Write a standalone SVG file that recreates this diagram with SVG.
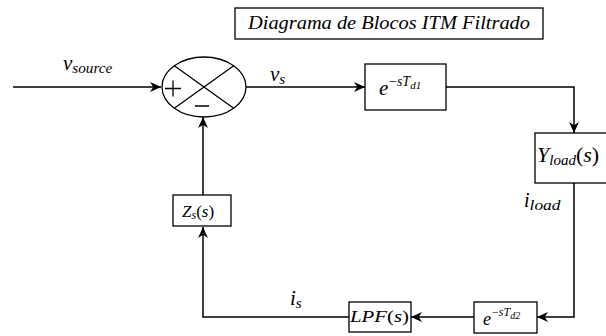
<svg xmlns="http://www.w3.org/2000/svg" width="606" height="336" viewBox="0 0 606 336">
<style>
.box{fill:#fff;stroke:#000;stroke-width:1.3}
.ln{fill:none;stroke:#000;stroke-width:1.5}
.m{font-family:'Liberation Serif','Times New Roman','DejaVu Serif',serif;font-style:italic;fill:#000}
.r{font-family:'Liberation Serif','Times New Roman','DejaVu Serif',serif;font-style:normal;fill:#000}
</style>
<defs>
<marker id="arr" viewBox="0 0 10 10" refX="10" refY="5" markerWidth="11" markerHeight="11" markerUnits="userSpaceOnUse" orient="auto">
<path d="M0,0.5 L10,5 L0,9.5 L3,5 Z" fill="#000"/>
</marker>
</defs>
<rect width="606" height="336" fill="#fff"/>
<g id="title">
<rect class="box" x="235" y="8" width="308" height="31"/>
<text class="m" x="248" y="29" font-size="18" textLength="282" lengthAdjust="spacingAndGlyphs">Diagrama de Blocos ITM Filtrado</text>
</g>
<g id="connectors">
<path class="ln" d="M13,87 H161" marker-end="url(#arr)"/>
<path class="ln" d="M246,87 H365" marker-end="url(#arr)"/>
<path class="ln" d="M446,87 H574 V133" marker-end="url(#arr)"/>
<path class="ln" d="M574,183 V317 H537" marker-end="url(#arr)"/>
<path class="ln" d="M474,317 H411" marker-end="url(#arr)"/>
<path class="ln" d="M349,317 H203 V227" marker-end="url(#arr)"/>
<path class="ln" d="M203,195 V117" marker-end="url(#arr)"/>
</g>
<g id="labels">
<text class="m" x="63" y="70" font-size="21">v<tspan font-size="15" dy="3" textLength="40" lengthAdjust="spacingAndGlyphs">source</tspan></text>
<text class="m" x="270" y="81" font-size="21">v<tspan font-size="15" dy="3">s</tspan></text>
<text class="m" x="524" y="207" font-size="20">i<tspan font-size="15" dy="3" textLength="31" lengthAdjust="spacingAndGlyphs">load</tspan></text>
<text class="m" x="290" y="305" font-size="21">i<tspan font-size="15" dy="3">s</tspan></text>
</g>
<g id="sum">
<ellipse cx="204" cy="87" rx="42" ry="30" fill="#fff" stroke="#000" stroke-width="1.3"/>
<path d="M174.3,65.8 L233.7,108.2 M174.3,108.2 L233.7,65.8" stroke="#000" stroke-width="1.3" fill="none"/>
<path d="M165,88.5 H181 M173,80.5 V96.5 M195,106 H209" stroke="#000" stroke-width="1.3" fill="none"/>
</g>
<g id="delay1">
<rect class="box" x="365" y="64" width="81" height="46"/>
<text class="m" x="379" y="95" font-size="21">e</text>
<text class="r" x="389" y="86" font-size="14">−<tspan class="m">sT</tspan><tspan class="m" font-size="11" dy="3">d1</tspan></text>
</g>
<g id="yload">
<rect class="box" x="535" y="133" width="78" height="50"/>
<text class="m" x="537" y="162" font-size="22">Y<tspan font-size="15" dy="3">load</tspan><tspan class="r" dy="-3">(</tspan>s<tspan class="r">)</tspan></text>
</g>
<g id="delay2">
<rect class="box" x="474" y="302" width="63" height="31"/>
<text class="m" x="483" y="325" font-size="18">e</text>
<text class="r" x="492" y="316" font-size="12">−<tspan class="m">sT</tspan><tspan class="m" font-size="10" dy="3">d2</tspan></text>
</g>
<g id="lpf">
<rect class="box" x="349" y="302" width="62" height="30"/>
<text class="m" x="350" y="322" font-size="17" textLength="59" lengthAdjust="spacingAndGlyphs">LPF<tspan class="r">(</tspan>s<tspan class="r">)</tspan></text>
</g>
<g id="zs">
<rect class="box" x="173" y="195" width="58" height="31"/>
<text class="m" x="182" y="217" font-size="17">Z<tspan font-size="12" dy="2">s</tspan><tspan class="r" dy="-2">(</tspan>s<tspan class="r">)</tspan></text>
</g>
</svg>
